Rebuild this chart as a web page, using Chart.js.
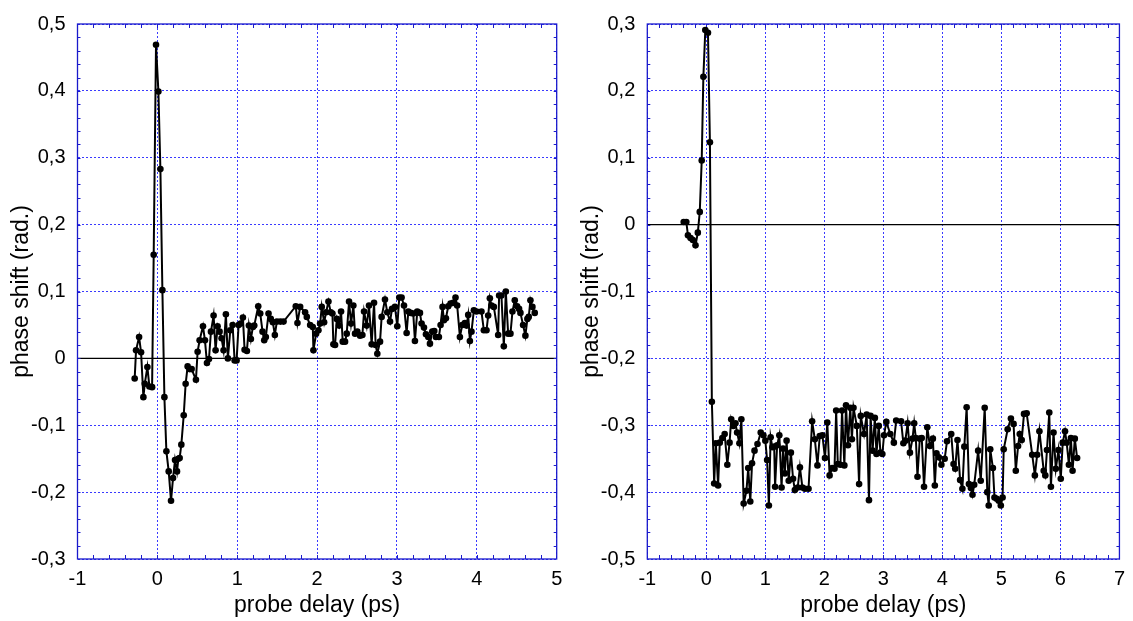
<!DOCTYPE html>
<html>
<head>
<meta charset="utf-8">
<script src="https://cdn.jsdelivr.net/npm/chart.js@4.4.1/dist/chart.umd.min.js"></script>
<style>
  html, body { margin: 0; padding: 0; background: #fff; }
  body { width: 1133px; height: 621px; position: relative; overflow: hidden; }
  .box { position: absolute; top: 0; height: 621px; }
  #leftBox { left: 0; width: 575px; }
  #rightBox { left: 570px; width: 563px; }
</style>
</head>
<body>
<div class="box" id="leftBox"><canvas id="left"></canvas></div>
<div class="box" id="rightBox"><canvas id="right"></canvas></div>
<script>
/* Left panel: probe delay (ps) / phase shift (rad.) */
const leftDelay = [
  -0.284, -0.267, -0.229, -0.204, -0.175, -0.158, -0.125, -0.100, -0.066, -0.046,
  -0.017, 0.013, 0.038, 0.063, 0.088, 0.113, 0.142, 0.171, 0.196, 0.221,
  0.246, 0.263, 0.279, 0.300, 0.330, 0.354, 0.379, 0.404, 0.429, 0.483,
  0.504, 0.529, 0.571, 0.596, 0.621, 0.646, 0.671, 0.704, 0.729, 0.754,
  0.779, 0.804, 0.829, 0.858, 0.883, 0.913, 0.942, 0.967, 0.992, 1.017,
  1.042, 1.071, 1.092, 1.121, 1.146, 1.171, 1.196, 1.213, 1.263, 1.288,
  1.317, 1.338, 1.358, 1.392, 1.420, 1.446, 1.471, 1.496, 1.540, 1.580,
  1.733, 1.754, 1.788, 1.850, 1.871, 1.913, 1.946, 1.954, 1.988, 2.017,
  2.038, 2.058, 2.088, 2.113, 2.142, 2.171, 2.192, 2.204, 2.225, 2.246,
  2.275, 2.300, 2.321, 2.350, 2.371, 2.400, 2.425, 2.454, 2.475, 2.504,
  2.538, 2.567, 2.588, 2.621, 2.650, 2.683, 2.713, 2.733, 2.754, 2.788,
  2.808, 2.850, 2.879, 2.913, 2.938, 2.975, 3.004, 3.029, 3.058, 3.088,
  3.121, 3.142, 3.171, 3.204, 3.225, 3.254, 3.288, 3.308, 3.338, 3.363,
  3.392, 3.413, 3.442, 3.467, 3.488, 3.525, 3.546, 3.571, 3.588, 3.613,
  3.642, 3.671, 3.704, 3.733, 3.754, 3.788, 3.817, 3.850, 3.871, 3.892,
  3.913, 3.933, 3.963, 3.996, 4.058, 4.088, 4.121, 4.142, 4.163, 4.183,
  4.213, 4.267, 4.279, 4.308, 4.338, 4.363, 4.392, 4.421, 4.446, 4.475,
  4.504, 4.529, 4.546, 4.579, 4.608, 4.633, 4.650, 4.671, 4.696, 4.725
];
const leftShift = [
  -0.030, 0.012, 0.032, 0.009, -0.058, -0.038, -0.013, -0.042, -0.043, 0.155,
  0.469, 0.399, 0.283, 0.102, -0.058, -0.139, -0.169, -0.213, -0.179, -0.152,
  -0.169, -0.150, -0.149, -0.129, -0.085, -0.038, -0.012, -0.016, -0.016, -0.032,
  0.010, 0.027, 0.048, 0.027, -0.007, -0.001, 0.040, 0.064, 0.012, 0.048,
  0.040, 0.030, 0.012, 0.066, 0.000, 0.042, 0.050, -0.003, -0.003, 0.050,
  0.052, 0.061, 0.013, 0.011, 0.049, 0.029, 0.047, 0.049, 0.078, 0.067,
  0.040, 0.027, 0.032, 0.067, 0.059, 0.054, 0.035, 0.055, 0.055, 0.055,
  0.078, 0.053, 0.077, 0.069, 0.062, 0.050, 0.047, 0.012, 0.037, 0.042,
  0.052, 0.077, 0.054, 0.069, 0.085, 0.069, 0.067, 0.021, 0.020, 0.059,
  0.049, 0.070, 0.025, 0.025, 0.037, 0.085, 0.052, 0.079, 0.037, 0.040,
  0.034, 0.035, 0.070, 0.049, 0.079, 0.021, 0.083, 0.020, 0.007, 0.025,
  0.062, 0.088, 0.069, 0.055, 0.074, 0.077, 0.048, 0.091, 0.091, 0.079,
  0.038, 0.070, 0.068, 0.067, 0.026, 0.070, 0.068, 0.052, 0.046, 0.036,
  0.032, 0.022, 0.040, 0.041, 0.032, 0.032, 0.050, 0.077, 0.057, 0.060,
  0.078, 0.082, 0.083, 0.091, 0.079, 0.032, 0.050, 0.053, 0.049, 0.065,
  0.026, 0.040, 0.072, 0.070, 0.070, 0.042, 0.042, 0.064, 0.090, 0.079,
  0.077, 0.035, 0.094, 0.094, 0.018, 0.100, 0.037, 0.037, 0.070, 0.087,
  0.078, 0.074, 0.068, 0.050, 0.034, 0.059, 0.062, 0.087, 0.077, 0.068
];

/* Right panel */
const rightDelay = [
  -0.383, -0.339, -0.311, -0.267, -0.228, -0.183, -0.144, -0.111, -0.078, -0.050,
  -0.017, 0.028, 0.061, 0.094, 0.133, 0.161, 0.200, 0.228, 0.272, 0.311,
  0.356, 0.394, 0.422, 0.456, 0.494, 0.522, 0.561, 0.594, 0.633, 0.680,
  0.710, 0.745, 0.775, 0.817, 0.867, 0.922, 0.967, 1.000, 1.030, 1.060,
  1.090, 1.120, 1.150, 1.165, 1.200, 1.237, 1.275, 1.300, 1.330, 1.360,
  1.396, 1.433, 1.470, 1.500, 1.549, 1.586, 1.628, 1.671, 1.732, 1.793,
  1.839, 1.883, 1.922, 1.967, 2.011, 2.050, 2.089, 2.133, 2.172, 2.200,
  2.228, 2.272, 2.300, 2.339, 2.367, 2.400, 2.439, 2.467, 2.494, 2.550,
  2.589, 2.617, 2.672, 2.717, 2.756, 2.783, 2.817, 2.856, 2.883, 2.922,
  2.950, 2.983, 3.011, 3.050, 3.117, 3.178, 3.217, 3.300, 3.339, 3.372,
  3.411, 3.450, 3.494, 3.522, 3.550, 3.578, 3.617, 3.650, 3.689, 3.744,
  3.789, 3.839, 3.872, 3.900, 3.939, 3.983, 4.039, 4.078, 4.150, 4.189,
  4.217, 4.256, 4.300, 4.339, 4.372, 4.411, 4.450, 4.483, 4.510, 4.539,
  4.606, 4.650, 4.717, 4.761, 4.785, 4.811, 4.856, 4.883, 4.920, 4.955,
  4.990, 5.020, 5.039, 5.106, 5.161, 5.206, 5.244, 5.283, 5.311, 5.344,
  5.383, 5.428, 5.522, 5.567, 5.606, 5.644, 5.717, 5.744, 5.772, 5.811,
  5.839, 5.883, 5.922, 5.967, 6.006, 6.039, 6.078, 6.106, 6.144, 6.178,
  6.206, 6.244, 6.283
];
const rightShift = [
  0.004, 0.004, -0.016, -0.020, -0.023, -0.031, -0.012, 0.019, 0.096, 0.221,
  0.291, 0.287, 0.123, -0.265, -0.387, -0.327, -0.390, -0.326, -0.319, -0.313,
  -0.359, -0.326, -0.291, -0.301, -0.297, -0.311, -0.327, -0.291, -0.417, -0.398,
  -0.364, -0.414, -0.357, -0.338, -0.328, -0.311, -0.315, -0.323, -0.352, -0.420,
  -0.318, -0.333, -0.332, -0.392, -0.330, -0.315, -0.393, -0.335, -0.372, -0.323,
  -0.383, -0.341, -0.380, -0.397, -0.393, -0.363, -0.393, -0.395, -0.395, -0.294,
  -0.321, -0.360, -0.316, -0.315, -0.349, -0.296, -0.375, -0.364, -0.365, -0.278,
  -0.358, -0.359, -0.278, -0.360, -0.270, -0.330, -0.274, -0.321, -0.274, -0.301,
  -0.388, -0.286, -0.313, -0.284, -0.412, -0.286, -0.338, -0.289, -0.343, -0.301,
  -0.341, -0.343, -0.315, -0.295, -0.313, -0.326, -0.293, -0.294, -0.327, -0.323,
  -0.297, -0.341, -0.320, -0.297, -0.319, -0.377, -0.320, -0.319, -0.392, -0.303,
  -0.331, -0.320, -0.390, -0.342, -0.348, -0.359, -0.350, -0.324, -0.313, -0.358,
  -0.365, -0.322, -0.382, -0.395, -0.332, -0.273, -0.388, -0.394, -0.404, -0.389,
  -0.338, -0.383, -0.274, -0.400, -0.420, -0.336, -0.364, -0.408, -0.410, -0.413,
  -0.420, -0.408, -0.336, -0.306, -0.290, -0.298, -0.368, -0.331, -0.313, -0.322,
  -0.283, -0.282, -0.344, -0.375, -0.344, -0.309, -0.368, -0.375, -0.337, -0.281,
  -0.392, -0.311, -0.365, -0.337, -0.380, -0.326, -0.309, -0.326, -0.359, -0.319,
  -0.368, -0.320, -0.349
];

const leftXRange = [-1, 5];
const leftYRange = [-0.3, 0.5];
const rightXRange = [-1, 7];
const rightYRange = [-0.5, 0.3];

const BLUE = "#1a1acc";
const GRID = "#3a3aff";
const FONT = "'Liberation Sans', Arial, sans-serif";

/* frame, zero line and minor ticks drawn under the data */
const framePlugin = {
    id: "frame",
    beforeDatasetsDraw(chart) {
        const {ctx, chartArea: a, scales: {x, y}} = chart;
        ctx.save();

        const y0 = y.getPixelForValue(0);
        ctx.strokeStyle = "#000";
        ctx.lineWidth = 1.2;
        ctx.beginPath();
        ctx.moveTo(a.left, y0);
        ctx.lineTo(a.right, y0);
        ctx.stroke();

        ctx.strokeStyle = BLUE;
        ctx.lineWidth = 1;
        ctx.beginPath();
        let n = Math.round((x.max - x.min) / 0.2);
        for (let i = 1; i < n; i++) {
            const px = Math.round(x.getPixelForValue(x.min + i * 0.2)) + 0.5;
            ctx.moveTo(px, a.bottom); ctx.lineTo(px, a.bottom - 4);
            ctx.moveTo(px, a.top); ctx.lineTo(px, a.top + 4);
        }
        n = Math.round((y.max - y.min) / 0.02);
        for (let i = 1; i < n; i++) {
            const py = Math.round(y.getPixelForValue(y.min + i * 0.02)) + 0.5;
            ctx.moveTo(a.left, py); ctx.lineTo(a.left + 3, py);
            ctx.moveTo(a.right, py); ctx.lineTo(a.right - 3, py);
        }
        ctx.stroke();

        ctx.lineWidth = 1.3;
        ctx.strokeRect(a.left, a.top, a.right - a.left, a.bottom - a.top);
        ctx.restore();
    }
};

const commaLabel = v => {
    const r = Math.round(v * 10) / 10;
    return r === 0 ? "0" : String(r).replace(".", ",");
};

function makeChart(id, xs, ys, xRange, yRange, yWidth, rightPad) {
    return new Chart(document.getElementById(id), {
        type: "line",
        data: {
            datasets: [{
                data: xs.map((x, i) => ({x: x, y: ys[i]})),
                borderColor: "#000",
                backgroundColor: "#000",
                borderWidth: 2,
                pointRadius: 3.3,
                pointBorderWidth: 0,
                tension: 0
            }]
        },
        options: {
            responsive: true,
            maintainAspectRatio: false,
            animation: false,
            events: [],
            layout: {autoPadding: false, padding: {left: 0, top: 19, right: rightPad, bottom: 0}},
            plugins: {legend: {display: false}, tooltip: {enabled: false}},
            scales: {
                x: {
                    type: "linear",
                    min: xRange[0],
                    max: xRange[1],
                    afterFit: s => { s.height = 62; },
                    ticks: {
                        stepSize: 1,
                        padding: 8,
                        color: "#000",
                        font: {family: FONT, size: 20},
                        callback: v => String(v)
                    },
                    grid: {color: GRID, lineWidth: 1, drawTicks: false},
                    border: {display: false, dash: [2, 2]},
                    title: {
                        display: true,
                        text: "probe delay (ps)",
                        color: "#000",
                        font: {family: FONT, size: 23},
                        padding: {top: 0, bottom: 2}
                    }
                },
                y: {
                    type: "linear",
                    min: yRange[0],
                    max: yRange[1],
                    afterFit: s => { s.width = yWidth; },
                    ticks: {
                        stepSize: 0.1,
                        padding: 12,
                        color: "#000",
                        font: {family: FONT, size: 20},
                        callback: commaLabel
                    },
                    grid: {color: GRID, lineWidth: 1, drawTicks: false},
                    border: {display: false, dash: [2, 2]},
                    title: {
                        display: true,
                        text: "phase shift (rad.)",
                        color: "#000",
                        font: {family: FONT, size: 23},
                        padding: {top: 8, bottom: 0}
                    }
                }
            }
        },
        plugins: [framePlugin]
    });
}

makeChart("left", leftDelay, leftShift, leftXRange, leftYRange, 77.5, 18.3);
makeChart("right", rightDelay, rightShift, rightXRange, rightYRange, 77.3, 7);
</script>
</body>
</html>
